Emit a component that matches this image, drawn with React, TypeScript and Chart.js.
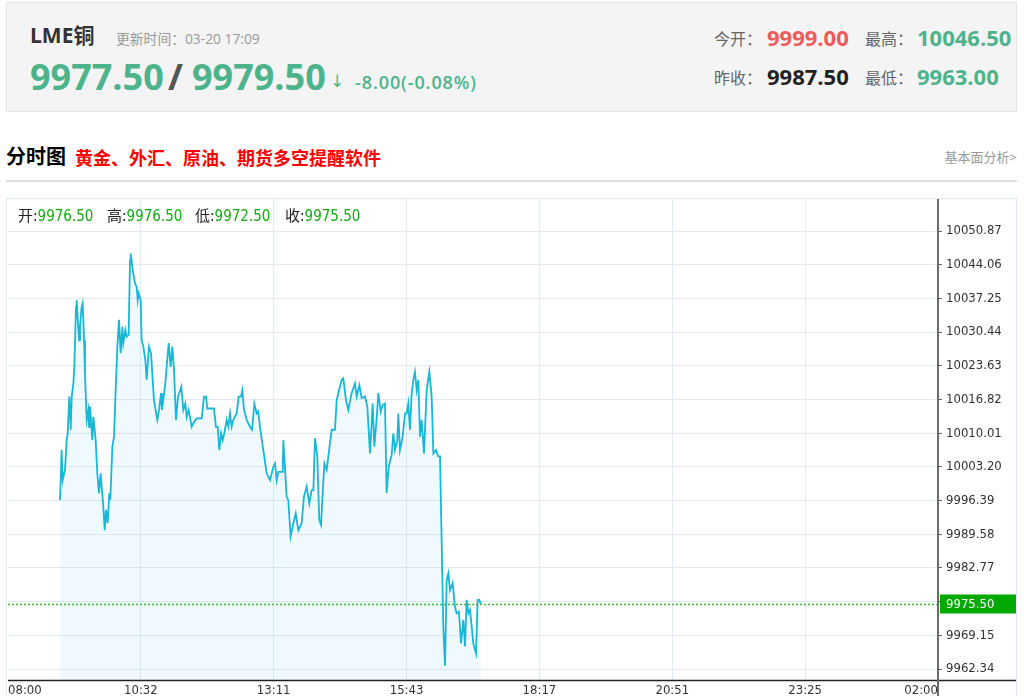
import React, { useEffect, useRef } from "react";
import { Chart, registerables } from "chart.js";

Chart.register(...registerables);

// minutes since 08:00
const minutes = [
  60.4, 62.3, 63.5, 66.2, 68.1, 69.3, 71.2, 72.8, 74.0, 75.9,
  77.0, 79.0, 79.7, 82.5, 83.6, 85.5, 86.7, 88.3, 89.4, 91.4,
  93.3, 94.1, 95.2, 96.4, 97.9, 99.1, 100.3, 101.8, 103.7, 105.7,
  107.6, 108.8, 110.7, 112.3, 113.8, 115.7, 117.7, 118.8, 121.2, 123.1,
  125.0, 127.0, 128.9, 130.8, 132.8, 133.9, 136.3, 137.8, 140.1, 141.7,
  142.5, 144.8, 147.5, 149.4, 150.6, 151.7, 154.1, 155.2, 157.2, 159.5,
  161.0, 163.7, 166.1, 169.5, 173.4, 175.4, 177.7, 178.8, 182.3, 186.6,
  188.9, 190.8, 192.8, 195.1, 197.4, 201.3, 203.6, 205.9, 207.5, 209.8,
  213.3, 215.2, 219.1, 224.9, 227.6, 229.9, 231.5, 239.2, 241.5, 243.5,
  245.4, 247.4, 249.3, 251.2, 253.9, 255.9, 257.8, 259.7, 261.7, 265.5,
  267.9, 270.6, 272.1, 274.1, 277.2, 281.0, 283.4, 286.1, 288.8, 290.7,
  292.6, 296.5, 300.4, 304.3, 308.1, 310.1, 312.0, 313.9, 319.0, 319.7,
  323.6, 325.5, 328.2, 331.4, 334.1, 337.2, 341.0, 343.7, 346.8, 349.9,
  352.6, 354.6, 356.5, 359.2, 361.5, 363.5, 365.4, 367.4, 370.1, 373.9,
  375.9, 379.7, 381.7, 384.4, 387.5, 389.4, 392.5, 395.2, 399.1, 403.0,
  404.9, 408.0, 410.7, 414.6, 417.3, 420.4, 423.5, 425.4, 428.1, 430.1,
  432.8, 435.1, 437.8, 439.7, 442.1, 445.5, 447.5, 449.4, 452.1, 453.3,
  455.2, 458.3, 461.0, 463.0, 464.9, 466.8, 468.8, 470.7, 472.6, 474.6,
  476.5, 478.5, 480.4, 483.1, 486.2, 489.3, 492.0, 494.0, 497.0, 499.7,
  501.7, 503.6, 505.5, 507.5, 509.4, 511.4, 513.3, 516.4, 519.1, 521.0,
  523.7, 526.1, 528.8, 530.7, 532.6, 534.6, 536.5, 538.5, 540.4, 543.5,
  545.4, 547.4, 549.0,
];

const prices = [
  9996.5, 10006.6, 10000.5, 10002.6, 10008.6, 10010.0, 10017.4, 10010.7, 10017.4, 10020.1,
  10023.4, 10035.6, 10036.9, 10028.8, 10031.5, 10035.6, 10036.3, 10028.8, 10022.1, 10012.7,
  10014.7, 10011.3, 10015.4, 10012.7, 10008.6, 10013.3, 10011.3, 10008.6, 10001.9, 9997.9,
  10001.9, 9999.2, 9995.2, 9990.4, 9994.5, 9991.8, 9997.9, 9996.5, 10007.3, 10009.3,
  10018.7, 10027.5, 10032.9, 10026.2, 10031.5, 10028.2, 10030.9, 10029.5, 10029.9, 10045.0,
  10046.3, 10043.0, 10040.3, 10039.6, 10036.9, 10038.3, 10036.9, 10028.8, 10027.5, 10024.8,
  10020.8, 10027.5, 10026.2, 10016.7, 10012.7, 10014.7, 10018.1, 10014.7, 10019.4, 10028.2,
  10023.4, 10027.5, 10022.8, 10012.7, 10017.4, 10019.4, 10014.7, 10016.0, 10013.3, 10014.7,
  10011.3, 10012.0, 10013.0, 10013.0, 10017.4, 10017.4, 10015.0, 10015.0, 10011.3, 10011.3,
  10006.6, 10010.0, 10008.6, 10010.0, 10012.7, 10011.3, 10014.0, 10011.3, 10012.7, 10014.0,
  10017.4, 10017.4, 10018.7, 10014.7, 10012.7, 10011.3, 10010.7, 10016.0, 10014.0, 10014.4,
  10011.3, 10006.6, 10001.9, 10000.5, 10003.2, 10003.9, 10000.5, 10002.2, 10002.2, 10008.6,
  9997.2, 9996.5, 9989.1, 9991.8, 9993.8, 9990.4, 9991.8, 9997.2, 9999.2, 9995.8,
  9998.5, 9998.5, 10009.0, 10005.3, 9992.5, 9991.5, 9997.9, 10003.9, 10002.6, 10008.0,
  10010.7, 10010.7, 10016.7, 10018.7, 10020.8, 10021.1, 10016.7, 10014.7, 10018.1, 10020.1,
  10017.4, 10019.7, 10017.1, 10017.4, 10015.4, 10005.9, 10016.0, 10007.3, 10013.0, 10018.1,
  10014.4, 10015.7, 10016.0, 9997.9, 10003.2, 10005.6, 10010.0, 10006.6, 10008.6, 10014.0,
  10006.6, 10009.3, 10014.0, 10014.0, 10016.0, 10010.7, 10018.1, 10020.8, 10022.4, 10018.7,
  10020.8, 10009.3, 10012.7, 10005.9, 10018.7, 10022.4, 10017.4, 10005.9, 10006.6, 10005.3,
  10005.3, 9988.4, 9970.9, 9963.0, 9980.3, 9981.7, 9978.3, 9979.7, 9974.9, 9973.6,
  9973.9, 9967.5, 9972.3, 9966.9, 9976.3, 9973.6, 9974.3, 9970.9, 9967.5, 9965.5,
  9976.3, 9976.3, 9975.5,
];

const yTickValues = [
  10050.87, 10044.06, 10037.25, 10030.44, 10023.63, 10016.82, 10010.01,
  10003.2, 9996.39, 9989.58, 9982.77, 9975.96, 9969.15, 9962.34,
];
const yMin = 9960.12;
const yMax = 10057.34;

const xTickLabels = ["08:00", "10:32", "13:11", "15:43", "18:17", "20:51", "23:25", "02:00"];
const sessionMinutes = 1080;

const lastPrice = 9975.5;

const ohlcLabels = ["开", "高", "低", "收"];
const ohlcValues = ["9976.50", "9976.50", "9972.50", "9975.50"];

const symbolName = "LME铜";
const updateText = "更新时间：03-20 17:09";
const bidText = "9977.50";
const askText = "9979.50";
const changeText = "-8.00(-0.08%)";
const openLabel = "今开：";
const openValue = "9999.00";
const highLabel = "最高：";
const highValue = "10046.50";
const prevLabel = "昨收：";
const prevValue = "9987.50";
const lowLabel = "最低：";
const lowValue = "9963.00";
const titleText = "分时图";
const promoText = "黄金、外汇、原油、期货多空提醒软件";
const linkText = "基本面分析>";

const GREEN = "#4db38b";
const RED = "#ef5a5a";
const LINE = "#17b7d6";
const GRID = "#e2ebf3";
const SANS = "'Open Sans','Noto Sans CJK SC',sans-serif";
const COND = "'DejaVu Sans Condensed','DejaVu Sans','Noto Sans CJK SC',sans-serif";

const overlay = {
  id: "overlay",
  afterDraw(chart: any) {
    const { ctx, chartArea, scales } = chart;
    const y = Math.round(scales.y.getPixelForValue(lastPrice)) + 0.5;
    ctx.save();
    ctx.strokeStyle = "#3dbb3d";
    ctx.lineWidth = 1.5;
    ctx.setLineDash([2, 2]);
    ctx.beginPath();
    ctx.moveTo(chartArea.left, y);
    ctx.lineTo(chartArea.right, y);
    ctx.stroke();
    ctx.setLineDash([]);
    ctx.strokeStyle = "#222";
    ctx.lineWidth = 1.5;
    ctx.beginPath();
    ctx.moveTo(chartArea.left, chartArea.bottom + 0.5);
    ctx.lineTo(chart.width, chartArea.bottom + 0.5);
    ctx.stroke();
    ctx.strokeStyle = "#6a6a6a";
    ctx.lineWidth = 2;
    ctx.beginPath();
    ctx.moveTo(chartArea.right, 0);
    ctx.lineTo(chartArea.right, chart.height);
    ctx.stroke();
    ctx.fillStyle = "#00a900";
    ctx.fillRect(chartArea.right + 2, y - 10, chart.width - chartArea.right - 2, 19);
    ctx.fillStyle = "#ffffff";
    ctx.font = "13px " + COND;
    ctx.textBaseline = "middle";
    ctx.textAlign = "left";
    ctx.fillText(lastPrice.toFixed(2), chartArea.right + 8, y);
    ctx.restore();
  },
};

function Txt(props: { left?: number; right?: number; top: number; size: number; color: string; bold?: boolean; weight?: number; family?: string; spacing?: number; children: any }) {
  return (
    <div
      style={{
        position: "absolute",
        left: props.left,
        right: props.right,
        top: props.top,
        fontSize: props.size,
        lineHeight: 1,
        color: props.color,
        fontWeight: props.weight ?? (props.bold ? 700 : 400),
        fontFamily: props.family ?? SANS,
        letterSpacing: props.spacing,
        whiteSpace: "nowrap",
      }}
    >
      {props.children}
    </div>
  );
}

export default function App() {
  const canvasRef = useRef<HTMLCanvasElement | null>(null);

  useEffect(() => {
    const canvas = canvasRef.current;
    if (!canvas) return;
    const tickFont = { family: COND, size: 13 };
    const chart = new Chart(canvas, {
      type: "line",
      data: {
        datasets: [
          {
            data: minutes.map((m, i) => ({ x: m, y: prices[i] })),
            borderColor: LINE,
            borderWidth: 1.8,
            backgroundColor: "rgba(40,175,220,0.07)",
            fill: "start",
            pointRadius: 0,
            tension: 0,
          },
        ],
      },
      options: {
        animation: false,
        responsive: false,
        maintainAspectRatio: false,
        events: [],
        layout: { autoPadding: false, padding: { left: 1, top: 0, right: 0, bottom: 0 } },
        plugins: { legend: { display: false }, tooltip: { enabled: false } },
        scales: {
          x: {
            type: "linear",
            min: 0,
            max: sessionMinutes,
            afterBuildTicks: (s: any) => {
              s.ticks = xTickLabels.map((_, i) => ({ value: (i * sessionMinutes) / (xTickLabels.length - 1) }));
            },
            afterFit: (s: any) => {
              s.height = 30;
              s.paddingLeft = 0;
              s.paddingRight = 0;
            },
            grid: {
              color: (c: any) => (c.index === 0 ? "rgba(0,0,0,0)" : GRID),
              drawTicks: false,
              lineWidth: 1,
            },
            border: { display: false },
            ticks: {
              align: "inner",
              padding: 3,
              maxRotation: 0,
              autoSkip: false,
              color: "#333",
              font: tickFont,
              callback: (_v: any, i: number) => xTickLabels[i],
            },
          },
          y: {
            position: "right",
            min: yMin,
            max: yMax,
            afterBuildTicks: (s: any) => {
              s.ticks = yTickValues.map((v) => ({ value: v }));
            },
            afterFit: (s: any) => {
              s.width = 78;
              s.paddingTop = 0;
              s.paddingBottom = 0;
            },
            grid: { color: GRID, tickColor: "#666", tickLength: 4, lineWidth: 1 },
            border: { display: false },
            ticks: {
              padding: 4,
              autoSkip: false,
              color: "#333",
              font: tickFont,
              callback: (v: any) => Number(v).toFixed(2),
            },
          },
        },
      } as any,
      plugins: [overlay],
    });
    return () => chart.destroy();
  }, []);

  const ohlcLeft = [18, 107, 195, 285];

  return (
    <div style={{ position: "absolute", left: 0, top: 0, width: 1024, height: 696, overflow: "hidden", background: "#fff" }}>
      <div style={{ position: "absolute", left: 6, top: 2, width: 1009, height: 108, background: "#f4f4f4", border: "1px solid #e4e4e4" }} />
      <Txt left={30} top={24.5} size={21} color="#333" bold>{symbolName}</Txt>
      <Txt left={116} top={31.5} size={13.8} color="#999">{updateText}</Txt>
      <Txt left={30} top={58.5} size={36} color={GREEN} bold>{bidText}</Txt>
      <Txt left={168} top={58.5} size={36} color="#555" bold>/</Txt>
      <Txt left={192} top={58.5} size={36} color={GREEN} bold>{askText}</Txt>
      <Txt left={330} top={73} size={17} color={GREEN} family="'DejaVu Sans',sans-serif">↓</Txt>
      <Txt left={355} top={73} size={18} color={GREEN} weight={600} spacing={0.9}>{changeText}</Txt>

      <Txt left={714} top={30.5} size={16} color="#666">{openLabel}</Txt>
      <Txt left={767} top={25.5} size={22} color={RED} bold>{openValue}</Txt>
      <Txt left={865} top={30.5} size={16} color="#666">{highLabel}</Txt>
      <Txt left={917} top={25.5} size={22} color={GREEN} bold>{highValue}</Txt>
      <Txt left={714} top={69.5} size={16} color="#666">{prevLabel}</Txt>
      <Txt left={767} top={64.5} size={22} color="#222" bold>{prevValue}</Txt>
      <Txt left={865} top={69.5} size={16} color="#666">{lowLabel}</Txt>
      <Txt left={917} top={64.5} size={22} color={GREEN} bold>{lowValue}</Txt>

      <Txt left={6} top={147} size={20} color="#000" bold>{titleText}</Txt>
      <Txt left={75} top={149} size={18} color="#ff0000" bold>{promoText}</Txt>
      <Txt right={7} top={150.5} size={13} color="#999">{linkText}</Txt>
      <div style={{ position: "absolute", left: 6, top: 180, width: 1011, height: 2, background: "#dedede" }} />

      <div style={{ position: "absolute", left: 6, top: 198, width: 1009, height: 600, border: "1px solid #e0e7ee" }} />
      <canvas ref={canvasRef} width={1009} height={511} style={{ position: "absolute", left: 7, top: 199, display: "block" }} />

      {ohlcLabels.map((lab, i) => (
        <div
          key={lab}
          style={{
            position: "absolute",
            left: ohlcLeft[i],
            top: 209,
            fontSize: 15,
            lineHeight: 1,
            fontFamily: COND,
            whiteSpace: "nowrap",
          }}
        >
          <span style={{ color: "#222" }}>{lab}:</span>
          <span style={{ color: "#11aa11" }}>{ohlcValues[i]}</span>
        </div>
      ))}
    </div>
  );
}
